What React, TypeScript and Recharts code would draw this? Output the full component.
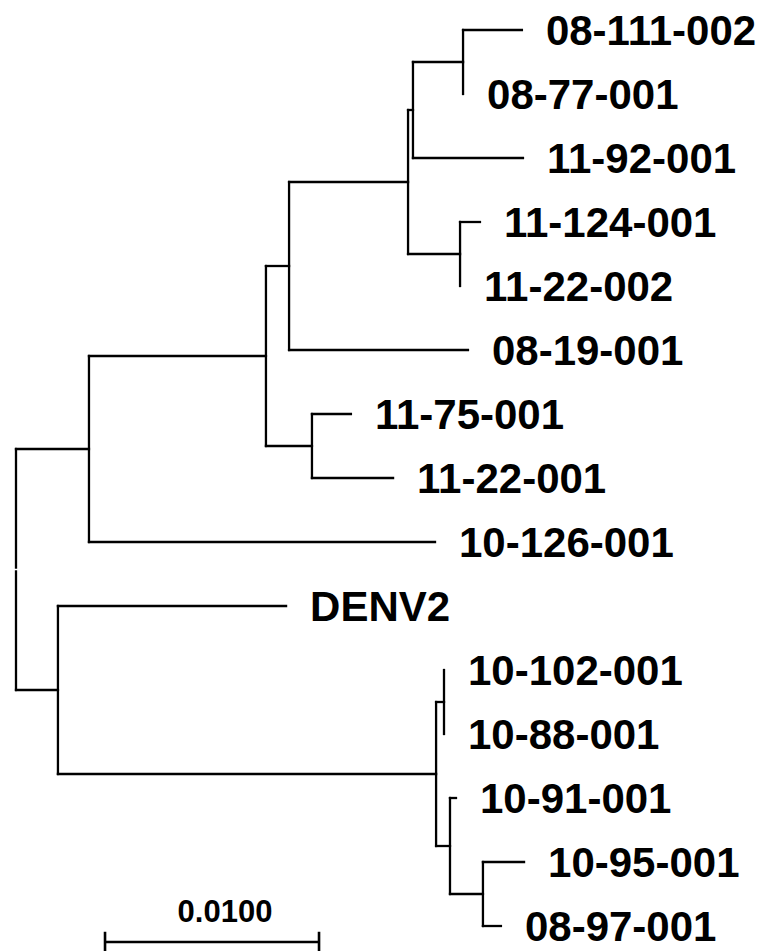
import React from 'react';
import { ComposedChart, XAxis, YAxis, Scatter, ReferenceLine } from 'recharts';

// Leaves (top to bottom) and their distance from the root
const leafNames = [
  '08-111-002', '08-77-001', '11-92-001', '11-124-001', '11-22-002',
  '08-19-001', '11-75-001', '11-22-001', '10-126-001', 'DENV2',
  '10-102-001', '10-88-001', '10-91-001', '10-95-001', '08-97-001',
];
const leafDepth = [
  0.02364, 0.02089, 0.02369, 0.02168, 0.02075,
  0.02112, 0.01565, 0.01762, 0.01958, 0.01262,
  0.02000, 0.02000, 0.02056, 0.02374, 0.02266,
];

// Internal nodes, their distance from the root, and their children
const nodeIds = ['root', 'A', 'B', 'C', 'D', 'E', 'F', 'G', 'H', 'I', 'J', 'K', 'L', 'M'];
const nodeDepth = [0, 0.00341, 0.01168, 0.01276, 0.01832, 0.01855, 0.02089, 0.02075, 0.01383, 0.00196, 0.01963, 0.02000, 0.02028, 0.02182];
const nodeKids = [
  ['A', 'I'],
  ['B', '10-126-001'],
  ['C', 'H'],
  ['D', '08-19-001'],
  ['E', 'G'],
  ['F', '11-92-001'],
  ['08-111-002', '08-77-001'],
  ['11-124-001', '11-22-002'],
  ['11-75-001', '11-22-001'],
  ['DENV2', 'J'],
  ['K', 'L'],
  ['10-102-001', '10-88-001'],
  ['10-91-001', 'M'],
  ['10-95-001', '08-97-001'],
];

// Scale bar
const scaleBarStart = 0.00416;
const scaleBarLength = 0.01;
const scaleBarLabel = '0.0100';

const SCALE_ROW = 14.25;

const isNode = (id: string) => nodeIds.indexOf(id) >= 0;
const depthOf = (id: string): number =>
  isNode(id) ? nodeDepth[nodeIds.indexOf(id)] : leafDepth[leafNames.indexOf(id)];
const rowOf = (id: string): number => {
  if (!isNode(id)) return leafNames.indexOf(id);
  const kids = nodeKids[nodeIds.indexOf(id)];
  const rows = kids.map(rowOf);
  return (Math.min(...rows) + Math.max(...rows)) / 2;
};

type Seg = { x1: number; y1: number; x2: number; y2: number };
const segments: Seg[] = [];
nodeIds.forEach((id, k) => {
  const d = nodeDepth[k];
  const kids = nodeKids[k];
  const rows = kids.map(rowOf);
  const lo = Math.min(...rows);
  const hi = Math.max(...rows);
  if (id === 'root') {
    const r = rowOf(id);
    segments.push({ x1: d, y1: lo, x2: d, y2: r - 0.03 });
    segments.push({ x1: d, y1: r + 0.03, x2: d, y2: hi });
  } else {
    segments.push({ x1: d, y1: lo, x2: d, y2: hi });
  }
  kids.forEach((c) => {
    const cd = depthOf(c);
    if (cd > d + 1e-9) segments.push({ x1: d, y1: rowOf(c), x2: cd, y2: rowOf(c) });
  });
});

const leafData = leafNames.map((name, i) => ({ x: leafDepth[i], y: i, name }));
const scaleLabelData = [{ x: scaleBarStart + scaleBarLength / 2, y: SCALE_ROW, name: scaleBarLabel }];

const FONT = '"Liberation Sans", Arial, Helvetica, sans-serif';

const LeafLabel = (props: any) => {
  const { cx, cy, payload } = props;
  return (
    <text x={cx + 24} y={cy} fontFamily={FONT} fontWeight="bold" fontSize={42} fill="#000" dominantBaseline="central">
      {payload.name}
    </text>
  );
};

const ScaleLabel = (props: any) => {
  const { cx, cy, payload } = props;
  return (
    <text x={cx + 13} y={cy - 31} fontFamily={FONT} fontWeight="bold" fontSize={31} fill="#000" textAnchor="middle" dominantBaseline="central">
      {payload.name}
    </text>
  );
};

export default function App() {
  return (
    <div style={{ position: 'absolute', left: 0, top: 0, width: 772, height: 951, background: '#fff', overflow: 'hidden' }}>
      <ComposedChart width={772} height={951} margin={{ top: 30, right: 7, bottom: 9, left: 16 }}>
        <XAxis dataKey="x" type="number" domain={[0, 0.035]} hide />
        <YAxis dataKey="y" type="number" domain={[0, SCALE_ROW]} reversed hide />
        {segments.map((s, i) => (
          <ReferenceLine
            key={'s' + i}
            segment={[{ x: s.x1, y: s.y1 }, { x: s.x2, y: s.y2 }]}
            stroke="#000"
            strokeWidth={2.3}
            strokeLinecap="square"
            ifOverflow="visible"
          />
        ))}
        <ReferenceLine
          segment={[{ x: scaleBarStart, y: SCALE_ROW }, { x: scaleBarStart + scaleBarLength, y: SCALE_ROW }]}
          stroke="#000"
          strokeWidth={2.6}
          ifOverflow="visible"
        />
        <ReferenceLine
          segment={[{ x: scaleBarStart, y: SCALE_ROW - 0.16 }, { x: scaleBarStart, y: SCALE_ROW + 0.16 }]}
          stroke="#000"
          strokeWidth={2.6}
          ifOverflow="visible"
        />
        <ReferenceLine
          segment={[{ x: scaleBarStart + scaleBarLength, y: SCALE_ROW - 0.16 }, { x: scaleBarStart + scaleBarLength, y: SCALE_ROW + 0.16 }]}
          stroke="#000"
          strokeWidth={2.6}
          ifOverflow="visible"
        />
        <Scatter data={leafData} dataKey="y" shape={LeafLabel} isAnimationActive={false} />
        <Scatter data={scaleLabelData} dataKey="y" shape={ScaleLabel} isAnimationActive={false} />
      </ComposedChart>
    </div>
  );
}
